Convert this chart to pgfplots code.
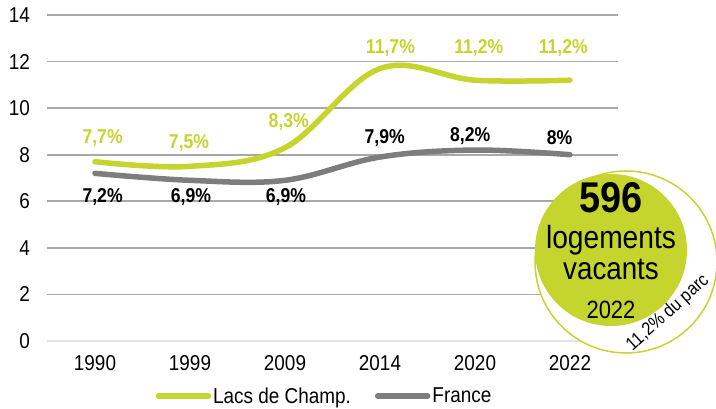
\documentclass[border=0pt]{standalone}
\usepackage{fontspec}
\setmainfont{Liberation Sans}[FakeStretch=0.88]
\usepackage{pgfplots}
\pgfplotsset{compat=1.18}
\definecolor{lime}{RGB}{198,212,46}
\definecolor{lgray}{RGB}{125,125,125}
\definecolor{gridc}{RGB}{168,168,168}
\begin{document}
\begin{tikzpicture}[x=1pt,y=1pt]
\path[use as bounding box] (0,0) rectangle (716,409);
\begin{axis}[
  at={(47.5pt,68pt)}, anchor=south west,
  scale only axis, width=570pt, height=326pt,
  xmin=-0.5, xmax=5.5, ymin=0, ymax=14,
  clip=false,
  axis line style={draw=none},
  major tick length=0pt,
  xtick={0,...,5},
  xticklabels={1990,1999,2009,2014,2020,2022},
  ytick={0,2,...,14},
  ymajorgrids,
  grid style={draw=gridc, line width=1.6pt},
  /pgf/number format/assume math mode=true,
  tick label style={font=\fontsize{21.5}{21.5}\selectfont},
  yticklabel style={anchor=east, xshift=-14pt},
  xticklabel style={anchor=north, yshift=-11pt},
  legend style={at={(0.486,-0.169)}, anchor=center, draw=none, fill=none,
    font=\fontsize{21.5}{21.5}\selectfont, legend columns=2,
    /tikz/every even column/.append style={column sep=22pt},
    inner sep=0pt, nodes={inner xsep=2pt}},
  legend image code/.code={\draw[#1, line cap=round] (0pt,0pt) -- (50pt,0pt);},
]
\draw[color=gray!20, line width=1.6pt] (axis cs:-0.5,0) -- (axis cs:5.5,0);
\addplot[color=lime, line width=5.5pt, line cap=round, smooth, tension=0.6] coordinates {
 (0,7.7) (1,7.5) (2,8.3) (3,11.7) (4,11.2) (5,11.2)};
\addlegendentry{Lacs de Champ.}
\addplot[color=lgray, line width=5.5pt, line cap=round, smooth, tension=0.6] coordinates {
 (0,7.2) (1,6.9) (2,6.9) (3,7.9) (4,8.2) (5,8.0)};
\addlegendentry{France}
\begin{scope}[every node/.style={font=\bfseries\fontsize{20}{20}\selectfont, inner sep=0pt}]
\node[text=lime] at (axis cs:0.08,8.71) {7,7\%};
\node[text=lime] at (axis cs:0.99,8.50) {7,5\%};
\node[text=lime] at (axis cs:2.04,9.40) {8,3\%};
\node[text=lime] at (axis cs:3.11,12.58) {11,7\%};
\node[text=lime] at (axis cs:4.04,12.58) {11,2\%};
\node[text=lime] at (axis cs:4.93,12.58) {11,2\%};
\node[text=black] at (axis cs:0.08,6.18) {7,2\%};
\node[text=black] at (axis cs:1.01,6.18) {6,9\%};
\node[text=black] at (axis cs:2.01,6.18) {6,9\%};
\node[text=black] at (axis cs:3.05,8.72) {7,9\%};
\node[text=black] at (axis cs:3.95,8.80) {8,2\%};
\node[text=black] at (axis cs:4.89,8.72) {8\%};
\end{scope}
\end{axis}
% badge
\fill[white] (626,147) circle (91);
\draw[lime, line width=1.5pt] (626,147) circle (91);
\fill[lime] (611,159) circle (76);
\node[font=\bfseries\fontsize{43}{43}\selectfont, inner sep=0pt] at (611,211) {596};
\node[font=\fontsize{32}{32}\selectfont, inner sep=0pt] at (611,169) {logements};
\node[font=\fontsize{31.5}{31.5}\selectfont, inner sep=0pt] at (611,140) {vacants};
\node[font=\fontsize{25}{25}\selectfont, inner sep=0pt] at (611,99) {2022};
\node[font=\fontsize{18.5}{18.5}\selectfont, inner sep=0pt, rotate=42] at (668,96) {11,2\% du parc};
\end{tikzpicture}
\end{document}
